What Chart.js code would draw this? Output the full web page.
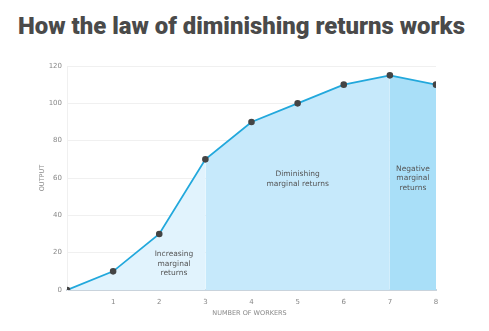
<!DOCTYPE html>
<html lang="en">
<head>
<meta charset="UTF-8">
<title>How the law of diminishing returns works</title>
<script src="https://cdn.jsdelivr.net/npm/chart.js"></script>
<style>
  html, body { margin: 0; padding: 0; background: #fff; }
  #wrap { position: relative; width: 489px; height: 331px; }
  #title {
    position: absolute; left: 18px; top: 11px; margin: 0;
    font-family: "Roboto", sans-serif; font-weight: 900; font-size: 24px;
    line-height: 30px; color: #4a4a4a; white-space: nowrap;
  }
  canvas { position: absolute; left: 0; top: 0; }
</style>
</head>
<body>
<div id="wrap">
  <h1 id="title">How the law of diminishing returns works</h1>
  <canvas id="chart" width="489" height="331"></canvas>
</div>
<script>
// workers vs. total output
const workers = [0, 1, 2, 3, 4, 5, 6, 7, 8];
const output = [0, 10, 30, 70, 90, 100, 110, 115, 110];
const yTicks = [0, 20, 40, 60, 80, 100, 120];

// stage boundaries (in workers) and their labels
const stages = [
  { from: 0, to: 3, color: '#e1f3fd', label: ['Increasing', 'marginal', 'returns'], at: [2.32, 19] },
  { from: 3, to: 7, color: '#c6e9fb', label: ['Diminishing', 'marginal returns'], at: [5.0, 62] },
  { from: 7, to: 8, color: '#a9dff8', label: ['Negative', 'marginal', 'returns'], at: [7.5, 65] }
];

// squeeze the heading to its 447px line
const title = document.getElementById('title');
const tw = title.getBoundingClientRect().width;
title.style.fontSize = (24 * 447 / tw).toFixed(2) + 'px';

const points = workers.map((w, i) => ({ x: w, y: output[i] }));

const areaSets = stages.map(s => ({
  data: points.filter(p => p.x >= s.from && p.x <= s.to),
  borderWidth: 0,
  pointRadius: 0,
  backgroundColor: s.color,
  fill: 'origin',
  order: 2
}));

const stageLabels = {
  id: 'stageLabels',
  afterDatasetsDraw(chart) {
    const { ctx, scales: { x, y } } = chart;
    ctx.save();
    ctx.font = '7.5px "DejaVu Sans", sans-serif';
    ctx.fillStyle = '#555';
    ctx.textAlign = 'center';
    ctx.textBaseline = 'middle';
    stages.forEach(s => {
      const cx = x.getPixelForValue(s.at[0]);
      const cy = y.getPixelForValue(s.at[1]);
      s.label.forEach((line, i) => ctx.fillText(line, cx, cy + i * 9.5));
    });

    // axis titles
    ctx.font = '6.5px "DejaVu Sans", sans-serif';
    ctx.fillStyle = '#888';
    ctx.fillText('NUMBER OF WORKERS', (x.left + x.right) / 2 - 2, 313);
    ctx.translate(42, (y.top + y.bottom) / 2);
    ctx.rotate(-Math.PI / 2);
    ctx.fillText('OUTPUT', 0, 0);
    ctx.restore();
  }
};

new Chart(document.getElementById('chart'), {
  type: 'line',
  data: {
    datasets: [
      {
        data: points,
        borderColor: '#22a8dc',
        borderWidth: 1.8,
        pointBackgroundColor: '#444',
        pointBorderColor: '#444',
        pointRadius: 2.4,
        fill: false,
        order: 1
      },
      ...areaSets
    ]
  },
  options: {
    responsive: false,
    animation: false,
    layout: { padding: { top: 66, right: 53, left: 0, bottom: 0 } },
    plugins: { legend: { display: false }, tooltip: { enabled: false } },
    scales: {
      x: {
        type: 'linear', min: 0, max: 8,
        afterFit: s => { s.height = 41; },
        ticks: {
          stepSize: 1,
          color: '#888',
          font: { family: 'DejaVu Sans', size: 7 },
          padding: 0,
          callback: v => (v === 0 ? '' : v)
        },
        grid: { display: false },
        border: { color: '#c9d3dc', width: 2 }
      },
      y: {
        min: 0, max: 120,
        afterFit: s => { s.width = 67; },
        afterBuildTicks: s => { s.ticks = yTicks.map(v => ({ value: v })); },
        ticks: {
          color: '#888',
          font: { family: 'DejaVu Sans', size: 7 },
          padding: 5
        },
        grid: { color: '#f0f0f0', lineWidth: 1, drawTicks: false },
        border: { display: true, color: '#f0f0f0' }
      }
    }
  },
  plugins: [stageLabels]
});
</script>
</body>
</html>
